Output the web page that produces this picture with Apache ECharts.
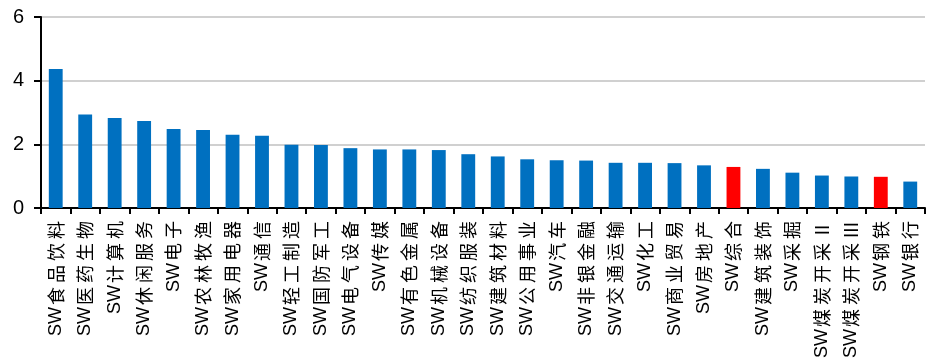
<!DOCTYPE html>
<html><head><meta charset="utf-8">
<script src="https://cdn.jsdelivr.net/npm/echarts@6/dist/echarts.min.js"></script>
<style>html,body{margin:0;padding:0;background:#fff}#c{width:933px;height:361px}</style>
</head><body><div id="c"></div>
<script>
const categories = ['SW食品饮料','SW医药生物','SW计算机','SW休闲服务','SW电子','SW农林牧渔','SW家用电器','SW通信','SW轻工制造','SW国防军工','SW电气设备','SW传媒','SW有色金属','SW机械设备','SW纺织服装','SW建筑材料','SW公用事业','SW汽车','SW非银金融','SW交通运输','SW化工','SW商业贸易','SW房地产','SW综合','SW建筑装饰','SW采掘','SW煤炭开采Ⅱ','SW煤炭开采Ⅲ','SW钢铁','SW银行'];
const values = [4.37,2.94,2.83,2.73,2.48,2.45,2.30,2.27,1.99,1.98,1.88,1.84,1.84,1.82,1.69,1.62,1.53,1.50,1.49,1.42,1.42,1.41,1.34,1.29,1.23,1.11,1.02,0.99,0.98,0.83];
const highlighted = ['SW综合','SW钢铁'];
const yTicks = [0,2,4,6];

const chart = echarts.init(document.getElementById('c'), null, {renderer:'canvas'});
const data = values.map((v,i)=>({value:v, itemStyle:{color: highlighted.includes(categories[i]) ? '#FF0000' : '#0070C0'}}));
chart.setOption({
  animation:false,
  grid:{left:41,right:8,top:17,bottom:151,containLabel:false},
  xAxis:{
    type:'category', data:categories,
    axisLine:{lineStyle:{color:'#000',width:2}},
    axisTick:{show:true,alignWithLabel:false,length:6,lineStyle:{color:'#000',width:2}},
    axisLabel:{rotate:90,interval:0,margin:11,color:'#000',
      fontFamily:'"Liberation Sans","Noto Sans CJK SC",sans-serif',fontSize:18,
      formatter:function(s){
        return s.split('').map(ch=>/[\u0000-\u007f]/.test(ch)? '{a|'+ch+'}' : '{c|'+ch+'}').join('');
      },
      rich:{
        a:{fontFamily:'"Liberation Sans",sans-serif',fontSize:18,color:'#000'},
        c:{fontFamily:'"Noto Sans CJK SC",sans-serif',fontSize:18,color:'#000',padding:[0,2,0,2]}
      }
    }
  },
  yAxis:{
    type:'value',min:0,max:6,interval:2,
    axisLine:{show:true,lineStyle:{color:'#000',width:2}},
    axisTick:{show:true,length:7,lineStyle:{color:'#000',width:2}},
    axisLabel:{margin:17,color:'#000',fontSize:20,fontFamily:'"Liberation Sans",Arial,sans-serif',
      formatter:function(v){return yTicks.includes(v)? String(v):'';}},
    splitLine:{show:true,lineStyle:{color:'#c0c0c0',width:1.5}}
  },
  series:[{type:'bar',data:data,barWidth:'47%'}]
});
</script></body></html>
